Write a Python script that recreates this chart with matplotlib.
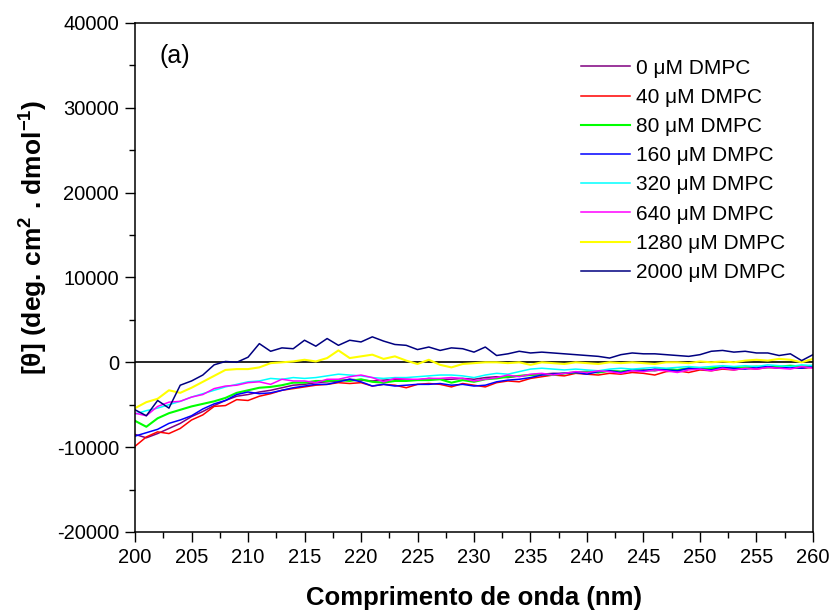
import numpy as np
import matplotlib
matplotlib.use("Agg")
import matplotlib.pyplot as plt

plt.rcParams['font.family'] = ['Liberation Sans', 'DejaVu Sans']
plt.rcParams['mathtext.fontset'] = 'custom'
plt.rcParams['mathtext.rm'] = 'Liberation Sans:bold'
plt.rcParams['mathtext.bf'] = 'Liberation Sans:bold'
plt.rcParams['axes.unicode_minus'] = False

# wavelength grid (nm) and mean residue ellipticity for each DMPC concentration
wavelength = np.arange(200, 261)

labels = ['0 μM DMPC', '40 μM DMPC', '80 μM DMPC', '160 μM DMPC',
          '320 μM DMPC', '640 μM DMPC', '1280 μM DMPC', '2000 μM DMPC']
colors = ['#800080', '#ff0000', '#00ff00', '#0000ff',
          '#00ffff', '#ff00ff', '#ffff00', '#000080']

theta_0 = [-8500, -8900, -8400, -7800, -7200, -6400, -5800, -5100, -4500, -4000,
           -3800, -3500, -3300, -3000, -2700, -2600, -2400, -2300, -2200, -2000,
           -2100, -2200, -2100, -2000, -2000, -2100, -1900, -2000, -2000,
           -1900, -2000, -1800, -1700, -1800, -1600, -1500, -1400, -1300, -1300,
           -1200, -1100, -1200, -1000, -1100, -1000, -900, -1000, -800, -900,
           -800, -700, -800, -700, -600, -700, -600, -600, -500, -600, -500, -500]
theta_40 = [-9900, -8800, -8200, -8400, -7800, -6800, -6200, -5200, -5100, -4400,
            -4500, -4000, -3700, -3300, -3100, -2900, -2700, -2600, -2400, -2500,
            -2400, -2800, -2600, -2700, -3000, -2600, -2500, -2600, -2900,
            -2500, -2700, -2900, -2400, -2200, -2300, -1900, -1700, -1500, -1600,
            -1300, -1400, -1500, -1300, -1400, -1200, -1300, -1500, -1100, -1000,
            -1200, -900, -1000, -800, -900, -700, -800, -600, -700, -600, -700, -600]
theta_80 = [-6900, -7600, -6600, -6000, -5600, -5200, -4900, -4600, -4200, -3600,
            -3300, -3000, -2900, -2700, -2400, -2400, -2200, -2200, -2100, -2200,
            -2000, -2300, -2400, -2200, -2200, -2100, -2100, -2000, -2400,
            -2100, -2300, -2000, -1900, -1700, -1600, -1500, -1400, -1500, -1300,
            -1200, -1100, -1200, -1000, -1100, -900, -1000, -900, -800, -900,
            -700, -800, -700, -600, -700, -600, -500, -600, -500, -400, -500, -400]
theta_160 = [-8700, -8300, -7900, -7200, -6800, -6300, -5500, -4900, -4500, -3800,
             -3500, -3700, -3600, -3300, -3000, -2800, -2600, -2600, -2300, -2000,
             -2300, -2800, -2600, -2800, -2700, -2600, -2600, -2500, -2700,
             -2600, -2800, -2700, -2300, -2100, -2000, -1800, -1500, -1400, -1300,
             -1200, -1400, -1100, -1000, -1200, -900, -1000, -800, -900, -1000,
             -700, -800, -900, -600, -700, -800, -600, -500, -700, -600, -700, -500]
theta_320 = [-6100, -5700, -5400, -5000, -4600, -4100, -3700, -3300, -2900, -2600,
             -2300, -2200, -1900, -2000, -1800, -1900, -1800, -1600, -1400, -1500,
             -1600, -1800, -1900, -1800, -1800, -1700, -1600, -1500, -1500,
             -1600, -1800, -1500, -1300, -1400, -1100, -800, -700, -800, -900,
             -800, -900, -1000, -800, -700, -800, -700, -600, -700, -600,
             -500, -600, -500, -400, -500, -400, -500, -300, -400, -500, -300, -400]
theta_640 = [-6000, -6300, -5200, -4700, -4600, -4100, -3800, -3100, -2800, -2700,
             -2400, -2300, -2600, -2000, -2200, -2200, -2400, -2000, -2000, -1700,
             -1500, -1800, -2300, -1900, -2000, -2000, -1900, -1900, -1800,
             -1900, -2200, -2000, -1800, -1500, -1700, -1400, -1300, -1500, -1300,
             -1100, -1200, -1000, -1100, -1300, -1000, -1100, -900, -1000, -1200,
             -900, -800, -1000, -700, -900, -700, -800, -600, -700, -800, -500, -700]
theta_1280 = [-5400, -4700, -4300, -3300, -3600, -3000, -2300, -1600, -900, -800,
              -800, -600, -100, 0, 100, 300, 100, 500, 1400, 500,
              700, 900, 400, 700, 200, -200, 300, -300, -600,
              -200, -100, 0, 0, -100, 0, -300, 0, -100, -200,
              0, -100, -200, 0, -100, 0, -100, -200, 0, 0,
              -100, 100, 0, 100, 0, 200, 300, 200, 400, 300, 0, 400]
theta_2000 = [-5600, -6300, -4500, -5400, -2700, -2200, -1500, -300, 100, 0,
              600, 2200, 1300, 1700, 1600, 2600, 1900, 2800, 2000, 2600,
              2400, 3000, 2500, 2100, 2000, 1500, 1800, 1400, 1700,
              1600, 1200, 1800, 800, 1000, 1300, 1100, 1200, 1100, 1000,
              900, 800, 700, 500, 900, 1100, 1000, 1000, 900, 800,
              700, 900, 1300, 1400, 1200, 1300, 1100, 1100, 800, 1000, 200, 900]

series = [theta_0, theta_40, theta_80, theta_160,
          theta_320, theta_640, theta_1280, theta_2000]
widths = [1.1, 1.1, 1.5, 1.1, 1.1, 1.1, 1.5, 1.1]

fig = plt.figure(figsize=(8.31, 6.14), dpi=100)
ax = fig.add_axes([0.1625, 0.1336, 0.8158, 0.8290])

ax.axhline(0, color='black', lw=1.2, zorder=1)
for y, c, lab, w in zip(series, colors, labels, widths):
    ax.plot(wavelength, y, color=c, lw=w, label=lab, zorder=2)

ax.set_xlim(200, 260)
ax.set_ylim(-20000, 40000)
ax.set_xticks(np.arange(200, 261, 5))
ax.set_xticks(np.arange(202.5, 260, 5), minor=True)
ax.set_yticks(np.arange(-20000, 40001, 10000))
ax.set_yticks(np.arange(-15000, 40000, 10000), minor=True)
ax.tick_params(which='major', direction='out', length=7.5, width=1.0,
               labelsize=14.5, pad=4)
ax.tick_params(which='minor', direction='out', length=4.5, width=1.0)
for s in ax.spines.values():
    s.set_linewidth(1.1)

ax.set_xlabel('Comprimento de onda (nm)', fontsize=18.5, fontweight='bold',
              va='center')
ax.set_ylabel(r'[θ] (deg. cm$^2$ . dmol$^{-1}$)', fontsize=19,
              fontweight='bold')
ax.xaxis.set_label_coords(0.5, -0.13)
ax.yaxis.set_label_coords(-0.127, 0.578)

ax.text(0.036, 0.935, '(a)', transform=ax.transAxes, fontsize=18,
        va='center', ha='left')

ax.legend(loc='upper left', bbox_to_anchor=(0.658, 0.93), frameon=False,
          fontsize=15, handlelength=2.35, handletextpad=0.3,
          labelspacing=0.49, borderpad=0, borderaxespad=0)

fig.savefig('out.png', dpi=100)
